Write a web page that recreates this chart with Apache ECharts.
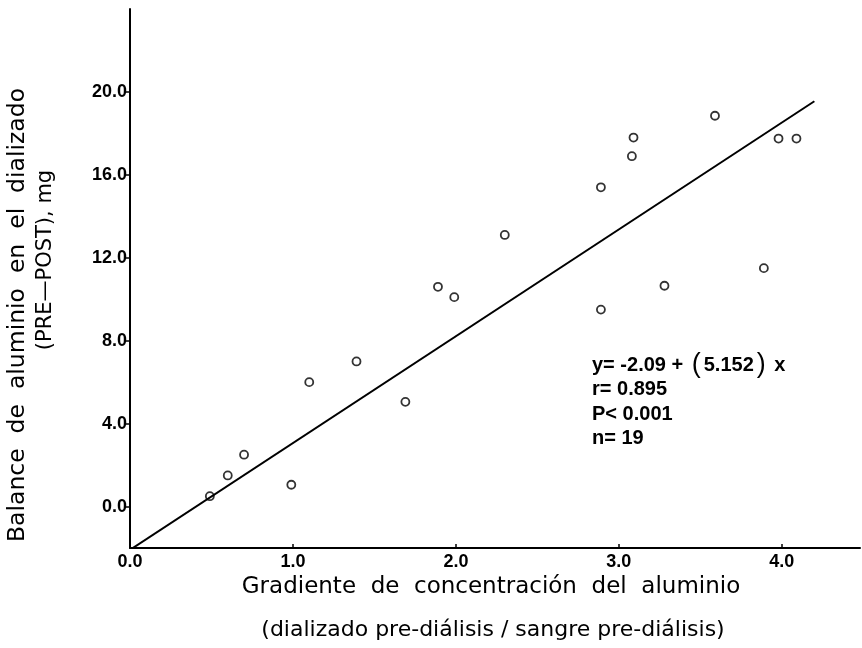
<!DOCTYPE html>
<html>
<head>
<meta charset="utf-8">
<script src="https://cdn.jsdelivr.net/npm/echarts@6/dist/echarts.min.js"></script>
<style>html,body{margin:0;padding:0;background:#fff;}#c{width:862px;height:648px;}</style>
</head>
<body>
<div id="c"></div>
<script>
// Gradient (x) values of the 19 patients
const gradX = [0.49, 0.60, 0.70, 0.99, 1.10, 1.39, 1.69, 1.89, 1.99, 2.30, 2.89, 2.89, 3.08, 3.09, 3.28, 3.59, 3.89, 3.98, 4.09];
// Aluminium balance (y) values, mg
const balY  = [0.5, 1.5, 2.5, 1.05, 6.0, 7.0, 5.05, 10.6, 10.1, 13.1, 15.4, 9.5, 16.9, 17.8, 10.65, 18.85, 11.5, 17.75, 17.75];
// Regression line end points
const fitX = [0, 4.2];
const fitY = [-2.09, 19.55];
// Tick labels
const yTicks = [0, 4, 8, 12, 16, 20];
const statsLines = ['y= -2.09 + {p|(}5.152{p|)} x', 'r= 0.895', 'P< 0.001', 'n= 19'];
const yTitle1 = 'Balance  de  aluminio  en  el  dializado';
const yTitle2 = '(PRE\u2014POST), mg';
const xTitle1 = 'Gradiente  de  concentración  del  aluminio';
const xTitle2 = '(dializado pre-diálisis / sangre pre-diálisis)';

const chart = echarts.init(document.getElementById('c'));
const lblFont = {color:'#000', fontFamily:'Liberation Sans', fontWeight:'bold', fontSize:18};
const option = {
  backgroundColor:'#fff',
  animation:false,
  grid:{left:130, right:2, top:9, bottom:100},
  xAxis:{
    type:'value', min:0, max:4.48, interval:1,
    axisLine:{onZero:false, lineStyle:{color:'#000', width:2}},
    axisTick:{inside:true, length:4, lineStyle:{color:'#000', width:1.5}},
    splitLine:{show:false},
    axisLabel:Object.assign({margin:5, showMaxLabel:false, formatter:v=>v.toFixed(1)}, lblFont)
  },
  yAxis:{
    type:'value', min:-2, max:24,
    axisLine:{onZero:false, lineStyle:{color:'#000', width:2}},
    axisTick:{length:4, customValues:yTicks, lineStyle:{color:'#000', width:1.5}},
    splitLine:{show:false},
    axisLabel:Object.assign({margin:3, customValues:yTicks, formatter:v=>v.toFixed(1)}, lblFont)
  },
  series:[
    {type:'line', data:fitX.map((x,i)=>[x, fitY[i]]), symbol:'none', lineStyle:{color:'#000', width:2}, silent:true},
    {type:'scatter', data:gradX.map((x,i)=>[x, balY[i]]), symbol:'circle', symbolSize:8,
     itemStyle:{color:'#fff', borderColor:'#000', borderWidth:1.8}}
  ],
  graphic:[
    {type:'text', x:18, y:315, rotation:Math.PI/2,
     style:{text:yTitle1, font:'23.5px "DejaVu Sans"', fill:'#000', align:'center', verticalAlign:'middle'}},
    {type:'text', x:46, y:260, rotation:Math.PI/2,
     style:{text:yTitle2, font:'21px "DejaVu Sans"', fill:'#000', align:'center', verticalAlign:'middle'}},
    {type:'text', x:491, y:587,
     style:{text:xTitle1, font:'23px "DejaVu Sans"', fill:'#000', align:'center', verticalAlign:'middle'}},
    {type:'text', x:493, y:630,
     style:{text:xTitle2, font:'22px "DejaVu Sans"', fill:'#000', align:'center', verticalAlign:'middle'}},
  ].concat(statsLines.map((t,i)=>({type:'text', x:592, y:365+i*24.5,
     style:{text:t, font:'bold 20px "Liberation Sans"', fill:'#000', align:'left', verticalAlign:'middle',
       rich:{p:{fontSize:27, fontWeight:'normal', fontFamily:'Liberation Sans', padding:[0,3,0,3]}}}})))
};
chart.setOption(option);
</script>
</body>
</html>
